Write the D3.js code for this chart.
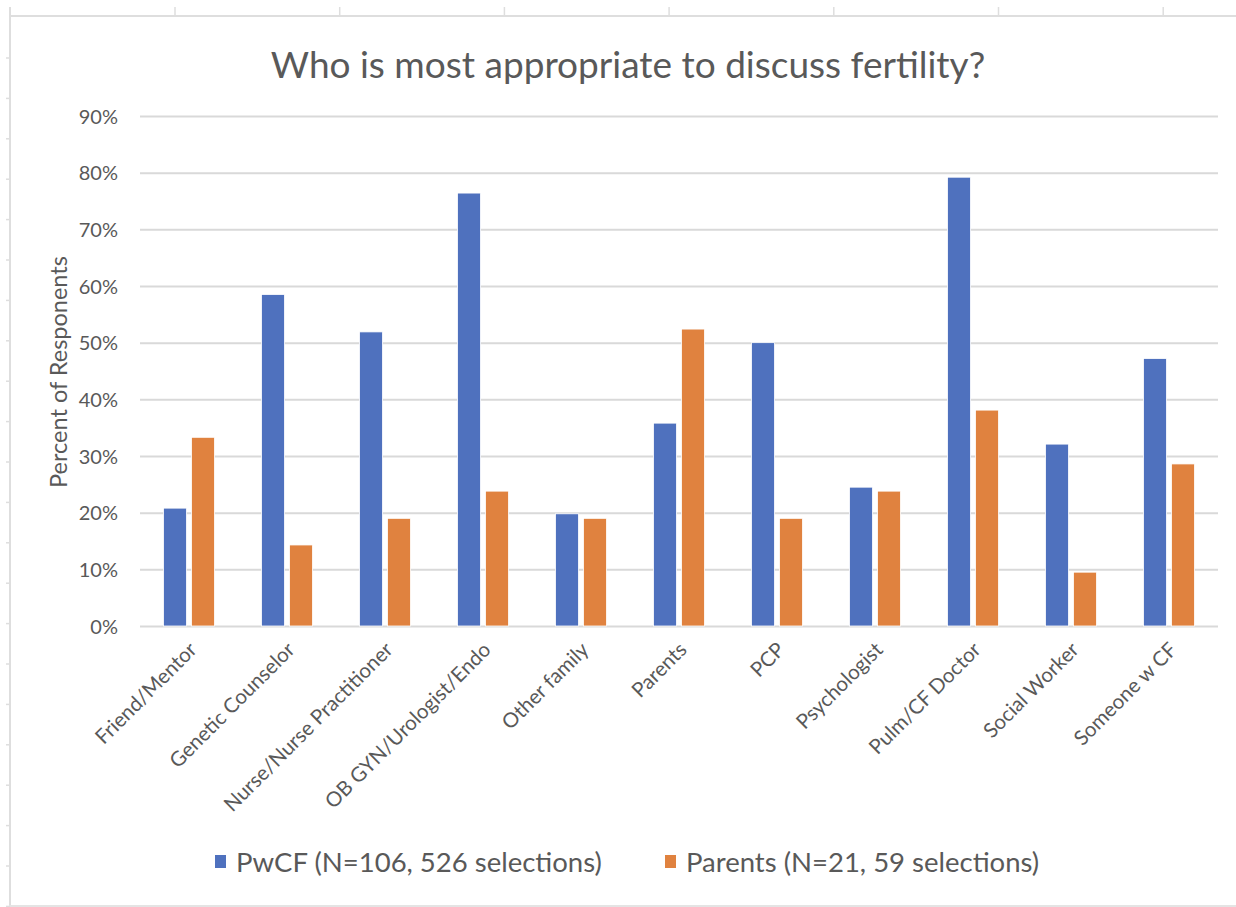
<!DOCTYPE html>
<html>
<head>
<meta charset="utf-8">
<script src="https://cdn.jsdelivr.net/npm/d3@7"></script>
<style>
  body { margin: 0; background: #fff; }
  text { font-family: Lato, "Open Sans", sans-serif; fill: #595959; }
</style>
</head>
<body>
<script>
var width = 1236,
    height = 907;

// data
var categories = ["Friend/Mentor", "Genetic Counselor", "Nurse/Nurse Practitioner", "OB GYN/Urologist/Endo",
  "Other family", "Parents", "PCP", "Psychologist", "Pulm/CF Doctor", "Social Worker", "Someone w CF"];
var pwcf = [20.8, 58.5, 51.9, 76.4, 19.8, 35.8, 50.0, 24.5, 79.2, 32.1, 47.2];
var parents = [33.3, 14.3, 19.0, 23.8, 19.0, 52.4, 19.0, 23.8, 38.1, 9.5, 28.6];
var seriesNames = ["PwCF (N=106, 526 selections)", "Parents (N=21, 59 selections)"];
var yTicks = [0, 10, 20, 30, 40, 50, 60, 70, 80, 90];

var colors = ["#4f71be", "#e0823f"];

var margin = {top: 116, left: 140, right: 18, bottom: 281};

var svg = d3.select("body").append("svg")
    .attr("width", width)
    .attr("height", height);

// spreadsheet frame behind the chart
var frame = svg.append("g");
frame.append("line").attr("x1", 9).attr("x2", width).attr("y1", 16).attr("y2", 16)
    .style("stroke", "#dedede").style("stroke-width", 2);
frame.append("line").attr("x1", 10).attr("x2", 10).attr("y1", 7).attr("y2", height)
    .style("stroke", "#dedede").style("stroke-width", 2);
frame.append("line").attr("x1", 9).attr("x2", width).attr("y1", 906).attr("y2", 906)
    .style("stroke", "#e4e4e4").style("stroke-width", 2);
frame.selectAll(".coltick")
    .data(d3.range(7))
    .enter().append("line")
    .attr("x1", function(d) { return 175 + d * 164.7; })
    .attr("x2", function(d) { return 175 + d * 164.7; })
    .attr("y1", 7).attr("y2", 16)
    .style("stroke", "#dedede").style("stroke-width", 1.5);
frame.selectAll(".rowtick")
    .data(d3.range(22))
    .enter().append("line")
    .attr("x1", 6).attr("x2", 10)
    .attr("y1", function(d) { return 58 + d * 40.4; })
    .attr("y2", function(d) { return 58 + d * 40.4; })
    .style("stroke", "#dedede").style("stroke-width", 1.5);

var x = d3.scaleBand()
    .domain(categories)
    .range([margin.left, width - margin.right]);

var y = d3.scaleLinear()
    .domain([0, 90])
    .range([height - margin.bottom, margin.top]);

// gridlines
svg.append("g")
    .attr("transform", "translate(" + margin.left + ",0)")
    .call(d3.axisLeft(y).tickValues(yTicks).tickSize(-(width - margin.left - margin.right))
        .tickFormat(function(d) { return d + "%"; }))
    .call(function(g) {
      g.select(".domain").remove();
      g.selectAll(".tick line").style("stroke", "#d9d9d9").style("stroke-width", 2);
      g.selectAll(".tick text").attr("x", -22).attr("dy", "0.35em")
          .style("font-size", "20px").style("fill", "#595959");
    });

// grouped bars
var barW = 23, gap = 5;
var group = svg.selectAll(".cat")
    .data(categories)
    .enter().append("g")
    .attr("class", "cat")
    .attr("transform", function(d) { return "translate(" + (x(d) + x.bandwidth() / 2) + ",0)"; });

group.append("rect")
    .attr("x", -barW - gap / 2)
    .attr("width", barW)
    .attr("y", function(d, i) { return y(pwcf[i]); })
    .attr("height", function(d, i) { return y(0) - y(pwcf[i]); })
    .style("fill", colors[0])
    .style("stroke", "#fff").style("stroke-width", 0.8);

group.append("rect")
    .attr("x", gap / 2)
    .attr("width", barW)
    .attr("y", function(d, i) { return y(parents[i]); })
    .attr("height", function(d, i) { return y(0) - y(parents[i]); })
    .style("fill", colors[1])
    .style("stroke", "#fff").style("stroke-width", 0.8);

// x axis labels
svg.append("g")
    .attr("transform", "translate(0," + y(0) + ")")
    .call(d3.axisBottom(x).tickSize(0).tickPadding(0))
    .call(function(g) {
      g.select(".domain").remove();
      g.selectAll(".tick text")
          .attr("text-anchor", "end")
          .attr("transform", "translate(4,20) rotate(-45)")
          .attr("dy", "0.35em")
          .attr("y", 0)
          .style("font-size", "20.5px").style("fill", "#595959");
    });

// title
svg.append("text")
    .attr("x", 628)
    .attr("y", 78)
    .attr("text-anchor", "middle")
    .style("font-size", "37px")
    .text("Who is most appropriate to discuss fertility?");

// y axis title
svg.append("text")
    .attr("transform", "translate(67,372) rotate(-90)")
    .attr("text-anchor", "middle")
    .style("font-size", "23.5px")
    .text("Percent of Responents");

// legend
var legendX = [215, 665];
var legend = svg.selectAll(".legend")
    .data(seriesNames)
    .enter().append("g")
    .attr("class", "legend")
    .attr("transform", function(d, i) { return "translate(" + legendX[i] + ",862)"; });

legend.append("rect")
    .attr("x", 0).attr("y", -7)
    .attr("width", 11).attr("height", 13)
    .style("fill", function(d, i) { return colors[i]; });

legend.append("text")
    .attr("x", 21)
    .attr("y", 0)
    .attr("dy", "0.35em")
    .style("font-size", "27.5px")
    .text(function(d) { return d; });
</script>
</body>
</html>
